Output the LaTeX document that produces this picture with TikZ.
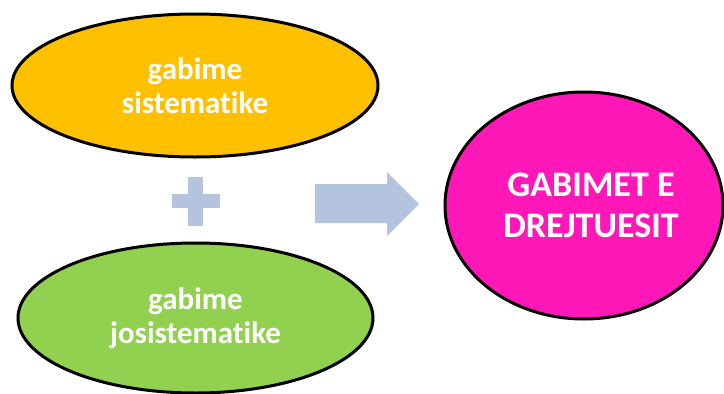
\documentclass[tikz,border=0pt]{standalone}
\usepackage{fontspec}
\setmainfont{Carlito}[Ligatures=NoCommon]
\usetikzlibrary{shapes.geometric}
\definecolor{yel}{HTML}{FFC000}
\definecolor{grn}{HTML}{92D050}
\definecolor{mag}{HTML}{FF17B8}
\definecolor{blu}{HTML}{B4C4DE}
\tikzset{
  oval/.style={ellipse, draw=black, line width=3pt, inner sep=0pt, text=white, align=center},
  smalltxt/.style={font=\fontsize{31}{34}\selectfont\bfseries},
  bigtxt/.style={font=\fontsize{36}{41}\selectfont\bfseries},
  shapefill/.style={fill=blu, draw=none}
}
\begin{document}
\begin{tikzpicture}[x=1pt,y=-1pt]
\useasboundingbox (0,0) rectangle (724,394);
\node[oval, fill=yel, smalltxt, minimum width=366pt, minimum height=143pt] (sis) at (195,85.5) {gabime\\sistematike};
\node[oval, fill=grn, smalltxt, minimum width=355pt, minimum height=150pt] (jos) at (195.5,318) {gabime\\josistematike};
\node[oval, fill=mag, bigtxt, minimum width=278pt, minimum height=227pt] (dre) at (584,205.5) {\hspace*{14pt}GABIMET E\\\hspace*{14pt}DREJTUESIT};
% plus sign
\fill[shapefill] (172,194) rectangle (220,208);
\fill[shapefill] (188,177) rectangle (203,226);
% block arrow
\fill[shapefill] (315,184) -- (387,184) -- (387,172) -- (419,204) -- (387,236) -- (387,223) -- (315,223) -- cycle;
\end{tikzpicture}
\end{document}
